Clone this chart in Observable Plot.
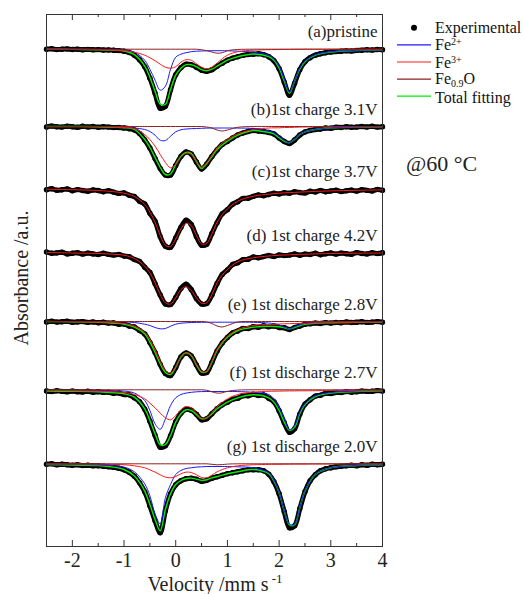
<!DOCTYPE html>
<html><head><meta charset="utf-8">
<script src="https://cdn.jsdelivr.net/npm/d3@7"></script>
<script src="https://cdn.jsdelivr.net/npm/@observablehq/plot@0.6"></script>
<style>body{margin:0;background:#fff} svg{display:block}</style>
</head><body><div id="chart"></div>
<script>
// velocity channels of the experimental points (mm/s)
const vel = [-2.5,-2.4,-2.3,-2.2,-2.1,-2.0,-1.9,-1.8,-1.7,-1.6,-1.5,-1.4,-1.3,-1.2,-1.1,-1.0,-0.9,-0.8,-0.7,-0.6,-0.5,-0.4,-0.3,-0.2,-0.1,0,0.1,0.2,0.3,0.4,0.5,0.6,0.7,0.8,0.9,1.0,1.1,1.2,1.3,1.4,1.5,1.6,1.7,1.8,1.9,2.0,2.1,2.2,2.3,2.4,2.5,2.6,2.7,2.8,2.9,3.0,3.1,3.2,3.3,3.4,3.5,3.6,3.7,3.8,3.9,4.0];
// velocities at which the fitted curves are read
const knots = [-2.5,-2,-1.5,-1.2,-1,-0.8,-0.6,-0.5,-0.4,-0.3,-0.2,-0.1,0,0.1,0.2,0.3,0.4,0.5,0.6,0.7,0.8,0.9,1,1.2,1.5,1.8,1.9,2,2.1,2.2,2.3,2.4,2.5,2.7,3,3.5,4];

const labels = ["(a)pristine","(b)1st charge 3.1V","(c)1st charge 3.7V","(d) 1st charge 4.2V","(e) 1st discharge 2.8V","(f) 1st discharge 2.7V","(g) 1st discharge 2.0V"];
// vertical offset of each spectrum (a.u.)
const offsets = [34.7,112,174.7,238,307,375.3,449.3];

// experimental absorbance (a.u., downward) on vel
const expA = [0,-0.4,0.4,0,-0.3,0.3,0,0.5,0.2,0.6,0.4,0.8,0.7,1.1,1.4,2,3.3,6,10.5,17.5,29,44,59,57,40.5,25.5,18.5,15,15.5,18,21,22,20.5,17,14,11,9,7.5,6.2,5.3,5,4.6,5.5,7.5,11.5,19.5,33,46,34,20.5,12.5,8.5,6,4.5,3.5,2.8,2.4,2,1.6,1.8,1.2,1,0.6,0.8,0.3,0.5];
const expB = [0.5,-0.4,0.3,0.6,-0.3,0.2,0.8,-0.2,0.4,0,0.8,0.2,0.6,1.1,1,1.5,2.2,3.5,7,13.5,21.5,32,42,48.5,48.5,39,30,25.5,27.5,35.5,42.5,37.5,30,23.5,18,15,11.5,8.5,6.5,5,4,4.5,5,6,7.5,11.5,15,17,13.5,8.5,5.5,4,3,2.5,1.5,1.8,0.7,1,0.3,0.8,0.6,0,0.5,-0.2,0.6,0.2];
const expC = [0.6,-0.4,1.1,0.5,-0.3,1.5,0.4,1.3,2,0.7,1.3,2.5,1.5,2.9,4.2,3.7,6.1,7.3,12,14.8,24,32,47.5,57,58.1,48.7,38.2,31,35.3,47.3,56,55,44.2,33.5,24.5,20.5,15,12.5,9.2,9,7.2,5.7,6.5,5.3,4,4.8,3.5,4,2.5,3.3,3.7,2.1,2.7,1.2,2.5,1.8,1,2.4,1.6,0.9,1.9,0.5,1.2,1.7,0.2,1.1];
const expD = [-0.5,0.8,0.4,-0.3,1.4,0.8,0.2,1.6,0.6,1.4,2,0.7,1.9,2.6,1.9,3.6,4.2,7,9,14.7,20,31.3,42.5,51.5,52,45,36,31.8,37,46,51.5,51,42.5,31,22,17.5,12,10.3,7.1,6.8,4.5,5.3,4.1,3,4,2.5,3.1,2.6,1.4,2.7,1.6,2,0.8,2.2,1.3,0.5,1.6,0.6,1.2,1.8,0.1,1,1.4,0.2,1.1,0.3];
const expE = [0.5,-0.3,0.6,0.2,-0.2,0.7,0.4,0.1,0.9,0.4,1.3,0.8,1.6,1.4,2.8,2.5,4.5,5.5,9,12.5,21,31,43,52,54,46,35.5,31.5,34.5,43.5,51.5,51,41,29.5,21.5,16,11.5,9.5,7,7,5.2,5.8,4.3,5.3,4.5,6,6.3,8,6,4.5,2.8,2.2,1.6,2,1.1,1.6,0.9,1.3,0.4,1,0.8,0.3,0.9,0.6,0.1,0.7];
const expF = [1.2,1.8,1,1.6,2,1.3,1.9,2.2,1.5,2.4,1.9,2.6,2.4,3.5,3.2,4.8,5,8,12,19.5,31.5,45.5,57.5,56,46,32,23.5,19.5,20.5,24.5,30,29,24,19,15,12.5,9.5,8.5,6,6,4.5,5.8,5.2,8.5,12,21,33,42.5,39,24.5,14.5,10,6.3,5.5,3.5,3.8,2.6,2.8,1.8,2.4,1.9,1.3,1.6,1.5,0.8,1.3];
const expG = [0.5,0,1,0.5,1,1.5,1,1.8,1.5,2,2,2.5,3,3.5,4.5,6,8.5,12.5,19,28,42,57,69,47,30,21,17,15,14.5,15.5,17.5,16.5,14.5,13,11.5,10,9,8,7,6,6,6,7,10.5,18,30,48,64,62,45,28,17,11,7,5,4,3,2.5,2,1.5,2,1,1.5,0.5,1,0.5];

// fitted components on knots (null = not fitted for that spectrum)
const fe2A = [0,0,0.2,0.5,1,3,11,20,31,41,37,20,8,5,3.5,2.5,2,1.8,1.6,1.5,1.5,1.5,1.6,2,3,6,10,17,30,43,32,19,12,5.5,2.5,1.2,0.6];
const fe2B = [0,0,0,0.3,0.5,1.5,3,5,8.7,13.7,14,9.7,5.3,3.3,2.5,2.2,2,1.8,1.6,1.5,1.5,1.5,1.5,1.6,2,4.5,6.3,10,14,16.3,13,8,5.3,3,1.3,0.6,0.3];
const fe2E = [0,0,0,0.2,0.4,1,2.7,4,6,7.3,7,4.7,2.7,1.7,1.3,1,0.9,0.8,0.7,0.7,0.7,0.7,0.7,0.7,0.8,1.5,2.2,3.3,5.7,7.3,5.3,3.3,2,1,0.5,0.2,0.1];
const fe2F = [0.2,0.4,0.7,1,1.3,3.3,10.7,20.7,34,39.5,29,15.7,8,4.7,3.3,2.5,2,1.8,1.7,1.7,1.7,1.7,1.7,1.8,2.5,4.7,9,17.3,29,40,35.7,22.3,14,6,2.7,1.3,0.7];
const fe2G = [0.3,0.7,1.2,2,3.3,8,20,32,50,60,34,20.7,10.7,6.7,4.7,4,3.3,3,2.7,2.7,2.7,2.7,2.7,3,4,9,16.7,28.7,47,60.5,60.5,44,27,10.5,4,1.7,1];

const fe3A = [0,0.2,0.5,1,1.5,3,6,8.5,11.5,15,18,19,17.5,13,10.5,11,14.5,18,19.5,18,14,9.5,6,2.5,1,0.5,0.4,0.3,0.2,0.2,0.1,0.1,0,0,0,0,0];
const fe3B = [0,0,0.3,0.6,1,2,8,13,19.7,28,36,41.3,38,30.7,26.7,28,35.3,40.3,36.3,28.7,21.3,16.5,13,7.3,3,1.5,1.3,1.3,1,1,0.8,0.6,0.5,0.4,0.3,0.2,0.2];
const fe3C = [0,0.5,1.3,2.5,4,7.3,15.3,23,33,46.3,56,57.3,49.7,39.7,34,36.3,46.3,54.7,54,44.7,33,25.5,19.7,12,7,5,4.5,4,3.7,3.4,3.2,2.9,2.7,2.2,1.7,1.1,0.7];
const fe3D = [0,0.5,1,1.8,2.7,6,13.7,20.3,30.3,42,50.3,51.5,45.3,37,34.3,38,45.3,50.7,50.3,42,30.3,22.5,17,9.3,5.3,3.5,3.1,2.7,2.5,2.3,2.1,1.9,1.7,1.4,1,0.7,0.5];
const fe3E = [0,0.3,0.7,1.3,2,4.5,10.7,18,28,40,49,51.3,45.7,35.7,31.3,34,42.7,50,50,40,28,20.5,14.7,8,4,3,2.8,2.5,2.3,2.2,2,1.9,1.7,1.5,1.2,0.8,0.5];
const fe3F = [0.7,1,1.5,2,2.7,4.7,9,13.3,18,23.3,28,30,25.7,20,16.7,18,23.3,29,28,22.7,16.7,12.5,9,4.7,2.3,1.5,1.4,1.3,1.2,1.1,1.1,1,1,0.9,0.7,0.6,0.5];
const fe3G = [0,0.2,0.3,0.6,1,2,4,6,8.3,11,13.3,14,12.7,10,8.3,8.7,11,13.7,14,11.3,8,5.8,4,2,1,0.6,0.5,0.5,0.4,0.4,0.3,0.3,0.3,0.2,0.2,0.1,0];

const feoA = [0,0,0,0,0,0,0,0,0,0,0,0,0,0,0,0,0,0.5,1.5,2.8,4,3.5,1.5,0.3,0,0,0,0,0,0,0,0,0,0,0,0,0];
const feoB = [0,0,0,0,0,0,0,0,0,0,0,0,0,0,0,0,0,0,0.5,1.5,3.5,4.5,3.5,0.8,0,0,0,0,0,0,0,0,0,0,0,0,0];
const feoE = [0,0,0,0,0,0,0,0,0,0,0,0,0,0,0,0,0,0,0.5,2,4.5,5.5,4,0.5,0,0,0,0,0,0,0,0,0,0,0,0,0];
const feoF = [0,0,0,0,0,0,0,0,0,0,0,0,0,0,0,0,0,0,0.5,2,3.3,3,1.5,0.3,0,0,0,0,0,0,0,0,0,0,0,0,0];
const feoG = [0,0,0,0,0,0,0,0,0,0,0,0,0,0,0,0,0,0,0,0.5,1,0.8,0.3,0,0,0,0,0,0,0,0,0,0,0,0,0,0];

const totA = [0,0.2,0.5,1,1.8,5.5,17,28,42,55,55,40,26,19,15.5,15.5,17.5,20.5,21.5,20,17,14,11,7.5,4.8,7.5,11,19,32,44,32,20,12.5,6,2.8,1.3,0.7];
const totB = [0,0,0.3,0.8,1.2,3,13,21,31,41,48,47.5,38,30,26,27,35,42,37,30,23,18.5,14.7,8.7,4,6,7.3,11.3,14.7,16.3,13,8,5.3,3,1.3,0.6,0.3];
const totE = [0,0.3,0.7,1.7,2.7,5.7,12.3,20.7,30.7,42.3,51,53,45.7,35.7,31.3,34,43.3,50.7,50,40.7,29,21.5,15.7,9,5.7,4.7,5,5.3,6.3,7.3,6,4,2.7,1.7,1.3,0.8,0.5];
const totF = [1.3,1.5,2,3,4,7.3,19,30.7,44,55,54.7,45.7,32.3,24,20,20.7,24.7,29,28,24,19,15.5,12.3,8,5,8,12.3,20.7,32.3,40.5,37.3,24,14.7,6.7,3.3,1.7,1];
const totG = [0.7,1.3,1.7,3.3,5.7,12.3,27.3,40.7,55.7,67,45.7,30,20.7,16.7,14.7,14.3,15.3,16.7,16,14,12.7,11.3,10,8,5.7,10,17.3,29,47.3,61,61,44,27.3,10.7,4,1.7,1];

const expSeries = [expA, expB, expC, expD, expE, expF, expG];
const fe2Series = [fe2A, fe2B, null, null, fe2E, fe2F, fe2G];
const fe3Series = [fe3A, fe3B, fe3C, fe3D, fe3E, fe3F, fe3G];
const feoSeries = [feoA, feoB, null, null, feoE, feoF, feoG];
const totSeries = [totA, totB, null, null, totE, totF, totG];

const majorTicks = [-2,-1,0,1,2,3,4];
const minorTicks = [-1.5,-0.5,0.5,1.5,2.5,3.5];
const legendNames = ["Experimental","Fe2+","Fe3+","Fe0.9O","Total fitting"];
const legendColors = ["#000000","#1a1aff","#ff1a1a","#8b2020","#00ee00"];

const expRows = expSeries.flatMap((arr, s) => arr.map((d, i) => ({v: vel[i], y: offsets[s] + d, s})));
const fitRows = series => series.flatMap((arr, s) => arr ? arr.map((d, i) => ({v: knots[i], y: offsets[s] + d, s})) : []);
const labelRows = labels.map((t, s) => ({t, y: offsets[s]}));

const yMax = 532;
const chart = Plot.plot({
  width: 524, height: 594,
  marginLeft: 46, marginRight: 142, marginTop: 14, marginBottom: 48,
  style: {fontFamily: "'Liberation Serif', serif", fontSize: "20px", background: "#fff", color: "#000"},
  x: {domain: [-2.5, 4], label: null},
  y: {domain: [0, yMax], reverse: true, axis: null},
  marks: [
    Plot.line(expRows, {x: "v", y: "y", z: "s", stroke: "#000", strokeWidth: 5, curve: "catmull-rom"}),
    Plot.dot(expRows, {x: "v", y: "y", r: 2.7, fill: "#000", stroke: "none"}),
    Plot.line(fitRows(totSeries), {x: "v", y: "y", z: "s", stroke: legendColors[4], strokeWidth: 1.4, curve: "catmull-rom"}),
    Plot.line(fitRows(fe2Series), {x: "v", y: "y", z: "s", stroke: legendColors[1], strokeWidth: 1, curve: "catmull-rom"}),
    Plot.line(fitRows(fe3Series), {x: "v", y: "y", z: "s", stroke: legendColors[2], strokeWidth: 1, curve: "catmull-rom"}),
    Plot.line(fitRows(feoSeries), {x: "v", y: "y", z: "s", stroke: legendColors[3], strokeWidth: 1, curve: "catmull-rom"}),
    Plot.text(labelRows, {y: "y", text: "t", frameAnchor: "right", textAnchor: "end", lineAnchor: "bottom", dx: -5, dy: -12, fontSize: 17, fill: "#222"}),
    Plot.ruleX(majorTicks, {x: d => d, y1: yMax, y2: yMax - 6, stroke: "#333"}),
    Plot.ruleX(majorTicks, {x: d => d, y1: 0, y2: 6, stroke: "#333"}),
    Plot.ruleX(minorTicks, {x: d => d, y1: yMax, y2: yMax - 3, stroke: "#333"}),
    Plot.ruleX(minorTicks, {x: d => d, y1: 0, y2: 3, stroke: "#333"}),
    Plot.frame({stroke: "#333"}),
    Plot.axisX({ticks: majorTicks, tickSize: 0, tickPadding: 6, tickFormat: d => `${d}`, fontSize: 20, label: null, fill: "#222"})
  ]
});
document.getElementById("chart").appendChild(chart);

// titles, legend, annotation
const svg = d3.select(chart);
const font = "'Liberation Serif', serif";
svg.append("text").attr("transform", "translate(28,278) rotate(-90)").attr("text-anchor", "middle")
  .attr("font-family", font).attr("font-size", 20).attr("fill", "#222").text("Absorbance /a.u.");
const xt = svg.append("text").attr("x", 215).attr("y", 591).attr("text-anchor", "middle")
  .attr("font-family", font).attr("font-size", 20).attr("fill", "#222");
xt.append("tspan").text("Velocity /mm s");
xt.append("tspan").attr("dy", -8).attr("font-size", 13).text(" -1");

svg.append("text").attr("x", 406).attr("y", 171).attr("text-anchor", "start")
  .attr("font-family", font).attr("font-size", 22).attr("fill", "#222").text("@60 °C");

const lg = svg.append("g").attr("font-family", font).attr("font-size", 16).attr("fill", "#111").attr("text-anchor", "start");
const nudge = [-0.8, 0, 0, -0.5, 1.6];
legendNames.forEach((name, i) => {
  const ly = 33.3 + 17.1 * i - 5.5;
  const base = 33.3 + 17.1 * i + nudge[i];
  if (i === 0) {
    lg.append("circle").attr("cx", 414).attr("cy", ly).attr("r", 3).attr("fill", "#000");
  } else {
    lg.append("line").attr("x1", 397).attr("x2", 431).attr("y1", ly).attr("y2", ly)
      .attr("stroke", legendColors[i]).attr("stroke-width", 1.2);
  }
  const t = lg.append("text").attr("x", 435).attr("y", base).attr("text-anchor", "start");
  const m = name.match(/^Fe(\d\+)$/);
  if (m) {
    t.append("tspan").text("Fe");
    t.append("tspan").attr("dy", -5).attr("font-size", 10).text(m[1]);
  } else if (name === "Fe0.9O") {
    t.append("tspan").text("Fe");
    t.append("tspan").attr("dy", 2.5).attr("font-size", 10).text("0.9");
    t.append("tspan").attr("dy", -2.5).text("O");
  } else {
    t.text(name);
  }
});
</script>
</body></html>
